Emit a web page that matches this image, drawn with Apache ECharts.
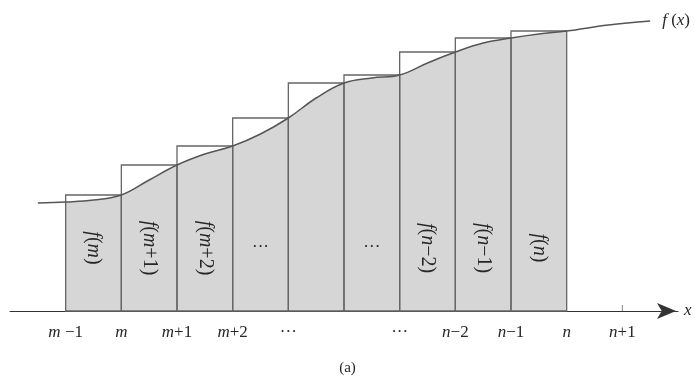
<!DOCTYPE html>
<html>
<head>
<meta charset="utf-8">
<script src="https://cdn.jsdelivr.net/npm/echarts@6/dist/echarts.min.js"></script>
<style>html,body{margin:0;padding:0;background:#fff}#c{width:695px;height:379px}</style>
</head>
<body>
<div id="c"></div>
<script>
// x positions are in units of integer steps: 0 = m-1, 1 = m, ..., 9 = n, 10 = n+1
var curveX = [-0.5, 0, 0.5, 1, 1.5, 2, 2.5, 3, 3.5, 4, 4.5, 5, 5.5, 6, 6.5, 7, 7.5, 8, 8.5, 9, 9.75, 10.5];
var curveY = [108, 109, 111, 116, 131, 146, 157, 165, 177, 193, 213, 228, 233, 236, 248, 259, 268, 273, 277, 280, 286, 290];
var barX = [1, 2, 3, 4, 5, 6, 7, 8, 9];
var barY = [116, 146, 165, 193, 228, 236, 259, 273, 280];
var barLabels = ['{i|f}({i|m})', '{i|f}({i|m}+1)', '{i|f}({i|m}+2)', '···', '', '···', '{i|f}({i|n}−2)', '{i|f}({i|n}−1)', '{i|f}({i|n})'];
var tickValues = [0, 1, 2, 3, 4, 5, 6, 7, 8, 9, 10];
var tickLabels = ['{i|m} −1', '{i|m}', '{i|m}+1', '{i|m}+2', '···', '', '···', '{i|n}−2', '{i|n}−1', '{i|n}', '{i|n}+1'];
var extraTicks = [10];
var curveLabel = '{i|f} ({i|x})';
var axisName = 'x';
var caption = '(a)';

var FONT = '"Liberation Serif", "DejaVu Serif", serif';
var FS = 17;
var BFS = 20;
var TXT = '#262626';
var richI = { i: { fontStyle: 'italic', fontFamily: FONT, fontSize: FS, color: TXT } };
var richB = { i: { fontStyle: 'italic', fontFamily: FONT, fontSize: BFS, fill: TXT } };

var curveData = curveX.map(function (x, i) { return [x, curveY[i]]; });
var areaData = curveData.filter(function (d) { return d[0] >= 0 && d[0] <= 9; });
var barData = barX.map(function (x, i) { return [x, barY[i], i]; });

var chart = echarts.init(document.getElementById('c'), null, { renderer: 'canvas' });
chart.setOption({
  animation: false,
  backgroundColor: '#fff',
  title: {
    text: caption, left: 'center', top: 361, padding: 0,
    textStyle: { fontFamily: FONT, fontSize: FS - 2, fontWeight: 'normal', color: TXT }
  },
  grid: { left: 10, right: 17, top: 11, bottom: 68 },
  xAxis: {
    type: 'value', min: -1, max: 11, interval: 1,
    splitLine: { show: false },
    axisTick: { show: false },
    axisLine: {
      lineStyle: { color: '#333', width: 1 },
      symbol: ['none', 'arrow'], symbolSize: [12, 19], symbolOffset: [0, -2]
    },
    name: axisName, nameLocation: 'end', nameGap: 6,
    nameTextStyle: { fontFamily: FONT, fontStyle: 'italic', fontSize: FS, color: TXT, verticalAlign: 'middle' },
    axisLabel: {
      margin: 13, fontFamily: FONT, fontSize: FS, color: TXT,
      rich: richI,
      formatter: function (v) {
        var idx = tickValues.indexOf(v);
        return idx >= 0 ? tickLabels[idx] : '';
      }
    }
  },
  yAxis: { type: 'value', min: 0, max: 300, show: false, splitLine: { show: false } },
  series: [
    {
      type: 'line', data: areaData, smooth: 0.4, symbol: 'none', z: 1,
      lineStyle: { width: 0, opacity: 0 },
      areaStyle: { color: '#d6d6d6', opacity: 1 }
    },
    {
      type: 'custom', z: 2,
      data: barData,
      renderItem: function (params, api) {
        var k = api.value(0), f = api.value(1), i = api.value(2);
        var p0 = api.coord([k - 1, 0]);
        var p1 = api.coord([k, f]);
        var mid = api.coord([k - 0.5, 63]);
        var children = [{
          type: 'rect',
          shape: { x: p0[0], y: p1[1], width: p1[0] - p0[0], height: p0[1] - p1[1] },
          style: { fill: 'none', stroke: '#666', lineWidth: 1.3 }
        }];
        var lbl = barLabels[i];
        if (lbl) {
          var isDots = lbl === '···';
          children.push({
            type: 'text', x: mid[0], y: mid[1], rotation: isDots ? 0 : -Math.PI / 2,
            style: {
              text: lbl, align: 'center', verticalAlign: 'middle',
              fontSize: isDots ? FS : BFS, fontFamily: FONT, fill: TXT, rich: richB
            }
          });
        }
        return { type: 'group', children: children };
      }
    },
    {
      type: 'custom', z: 2,
      data: extraTicks.map(function (v) { return [v, 0]; }),
      renderItem: function (params, api) {
        var p = api.coord([api.value(0), 0]);
        return { type: 'line', shape: { x1: p[0], y1: p[1] - 6, x2: p[0], y2: p[1] }, style: { stroke: '#888', lineWidth: 1 } };
      }
    },
    {
      type: 'line', data: curveData, smooth: 0.4, symbol: 'none', z: 3,
      lineStyle: { color: '#555', width: 1.5 },
      endLabel: {
        show: true, formatter: curveLabel, distance: 12,
        fontFamily: FONT, fontSize: FS, color: TXT, rich: richI
      }
    }
  ]
});
</script>
</body>
</html>
